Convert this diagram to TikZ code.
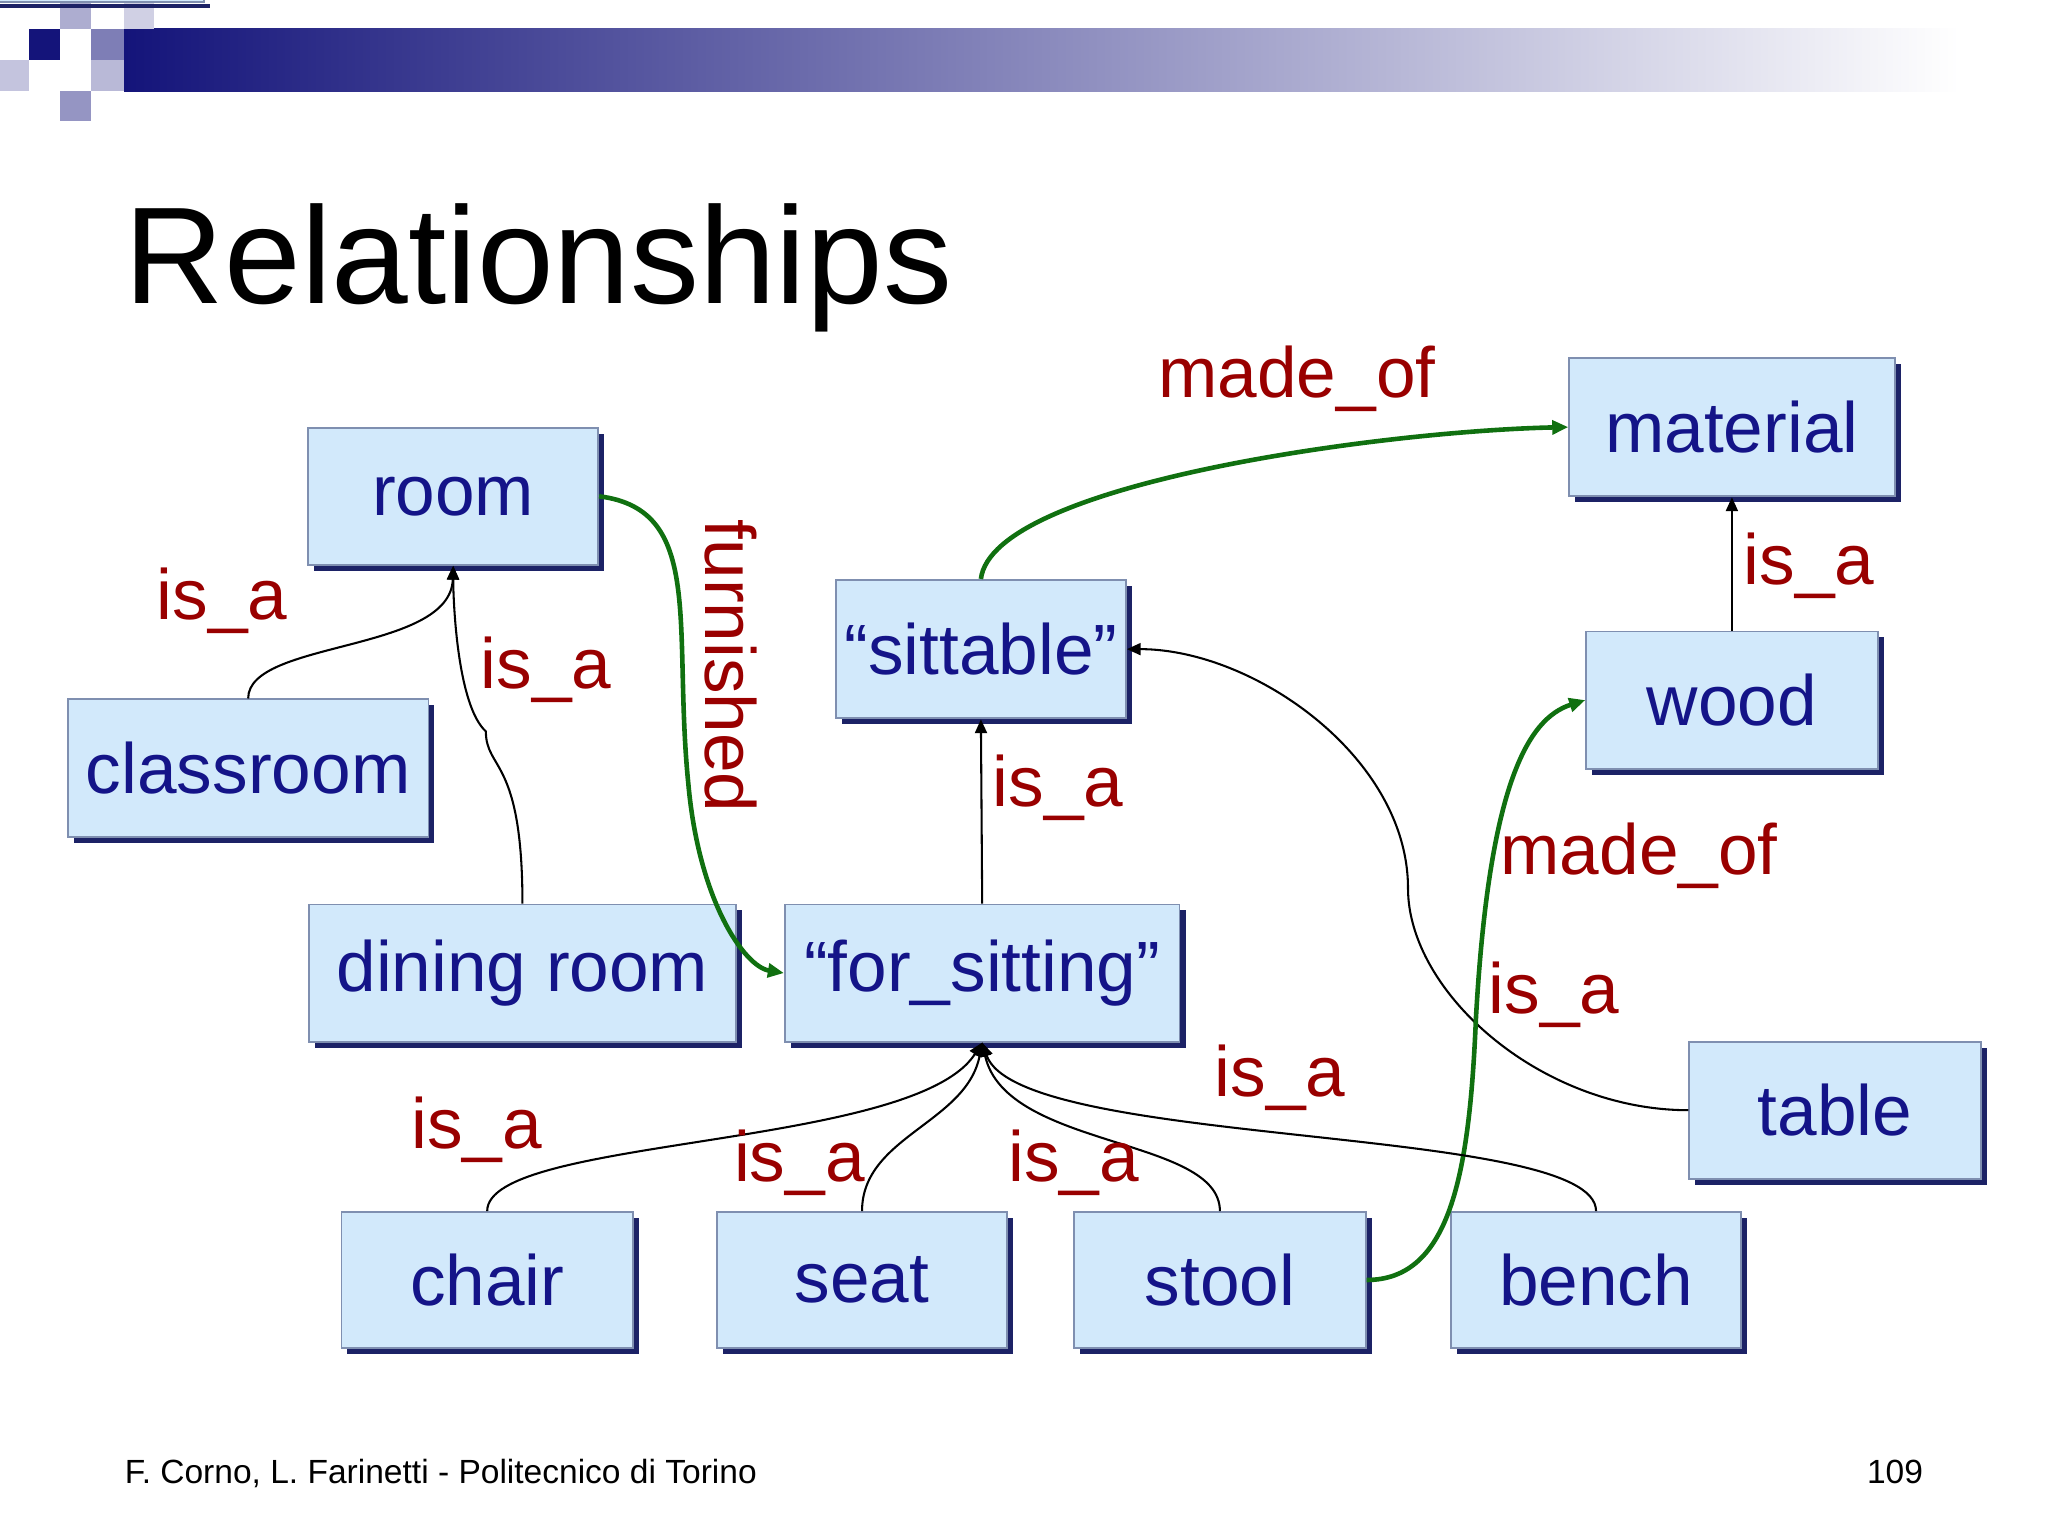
\documentclass[tikz,border=0pt]{standalone}
\usepackage{fontspec}
\setmainfont{Liberation Sans}
\usetikzlibrary{arrows.meta}
\definecolor{boxfill}{HTML}{D2E9FB}
\definecolor{boxline}{HTML}{7F8FB0}
\definecolor{shad}{HTML}{1C2266}
\definecolor{navy}{HTML}{141488}
\definecolor{lab}{HTML}{990000}
\definecolor{grn}{HTML}{107010}
\definecolor{hdr}{HTML}{14147A}
\tikzset{
 box/.style={draw=boxline,fill=boxfill,line width=0.4pt,text=navy,font=\fontsize{15.5}{18}\selectfont,
   inner sep=0pt,
   drop shadow={shadow xshift=1.3pt,shadow yshift=-1.3pt,fill=shad,opacity=1}},
 lbl/.style={text=lab,font=\fontsize{15.5}{18}\selectfont,inner sep=0pt},
 isa/.style={draw=black,line width=0.45pt,-{Triangle[length=3pt,width=2.6pt]}},
 mo/.style={draw=grn,line width=1pt,-{Triangle[length=3.5pt,width=3pt]}},
}
\usetikzlibrary{shadows}
\begin{document}
\begin{tikzpicture}[x=0.01cm,y=-0.01cm]
\useasboundingbox (0,0) rectangle (1568,1176);
% header
\shade[left color=hdr,right color=white] (95,22) rectangle (1500,70);
\fill[hdr] (22,22) rectangle (46,46);
\fill[hdr!35] (46,0) rectangle (70,22);
\fill[hdr!55] (70,22) rectangle (95,46);
\fill[hdr!45] (46,70) rectangle (70,93);
\fill[hdr!25] (0,46) rectangle (22,70);
\fill[hdr!20] (95,0) rectangle (118,22);
\fill[hdr!30] (70,46) rectangle (95,70);
\node[anchor=base west,inner sep=0pt,font=\fontsize{30}{36}\selectfont] (title) at (95,232) {Relationships};
\node[anchor=base west,inner sep=0pt,font=\fontsize{7.3}{9}\selectfont] (foot) at (95,1136) {F. Corno, L. Farinetti - Politecnico di Torino};
\node[anchor=base east,inner sep=0pt,font=\fontsize{7.3}{9}\selectfont] (pg) at (1473,1136) {109};
% nodes
\node[box,minimum width=222\pgflinewidth] at (0,0) {};
\node[box,minimum width=6.25cm*0.355,minimum height=1.05cm] (room) at (347,380) {room};
\node[box,minimum width=2.76cm,minimum height=1.05cm] (classroom) at (190,588) {classroom};
\node[box,minimum width=3.27cm,minimum height=1.05cm] (dining) at (400,745) {dining room};
\node[box,minimum width=2.22cm,minimum height=1.06cm] (sittable) at (751,497) {“sittable”};
\node[box,minimum width=3.02cm,minimum height=1.05cm] (forsit) at (752,745) {“for\_sitting”};
\node[box,minimum width=2.49cm,minimum height=1.06cm] (material) at (1326,327) {material};
\node[box,minimum width=2.23cm,minimum height=1.05cm] (wood) at (1326,536) {wood};
\node[box,minimum width=2.23cm,minimum height=1.05cm] (table) at (1405,850) {table};
\node[box,minimum width=2.23cm,minimum height=1.04cm] (chair) at (373,980) {chair};
\node[box,minimum width=2.22cm,minimum height=1.04cm] (seat) at (660,980) {seat};
\node[box,minimum width=2.23cm,minimum height=1.04cm] (stool) at (934,980) {stool};
\node[box,minimum width=2.22cm,minimum height=1.04cm] (bench) at (1222,980) {bench};
% edges
\draw[isa] (classroom.north) .. controls (190,490) and (345,500) .. (room.south);
\draw[isa] (dining.north) .. controls (400,580) and (372,590) .. (372,560) .. controls (350,540) and (347,460) .. (room.south);
\draw[mo] (room.east) .. controls (540,390) and (515,480) .. (527,600) .. controls (535,690) and (570,740) .. (forsit.west);
\draw[isa] (forsit.north) -- (sittable.south);
\draw[mo] (sittable.north) .. controls (760,370) and (1060,330) .. (material.west);
\draw[isa] (table.west) .. controls (1180,850) and (1078,760) .. (1078,680) .. controls (1078,580) and (960,497) .. (sittable.east);
\draw[isa] (wood.north) -- (material.south);
\draw[mo] (stool.east) .. controls (1110,980) and (1125,900) .. (1130,780) .. controls (1140,600) and (1170,550) .. (wood.west);
\draw[isa] (chair.north) .. controls (373,870) and (700,880) .. (forsit.south);
\draw[isa] (seat.north) .. controls (660,870) and (740,860) .. (forsit.south);
\draw[isa] (stool.north) .. controls (934,870) and (770,880) .. (forsit.south);
\draw[isa] (bench.north) .. controls (1222,860) and (780,880) .. (forsit.south);
% labels
\node[lbl] (l1) at (170,460) {is\_a};
\node[lbl] (l2) at (418,513) {is\_a};
\node[lbl,rotate=-90] (l3) at (560,510) {furnished};
\node[lbl] (l4) at (993,290) {made\_of};
\node[lbl] (l5) at (1385,433) {is\_a};
\node[lbl] (l6) at (810,603) {is\_a};
\node[lbl] (l7) at (1255,655) {made\_of};
\node[lbl] (l8) at (1190,762) {is\_a};
\node[lbl] (l9) at (980,825) {is\_a};
\node[lbl] (l10) at (365,865) {is\_a};
\node[lbl] (l11) at (612,890) {is\_a};
\node[lbl] (l12) at (822,890) {is\_a};
\end{tikzpicture}
\end{document}
